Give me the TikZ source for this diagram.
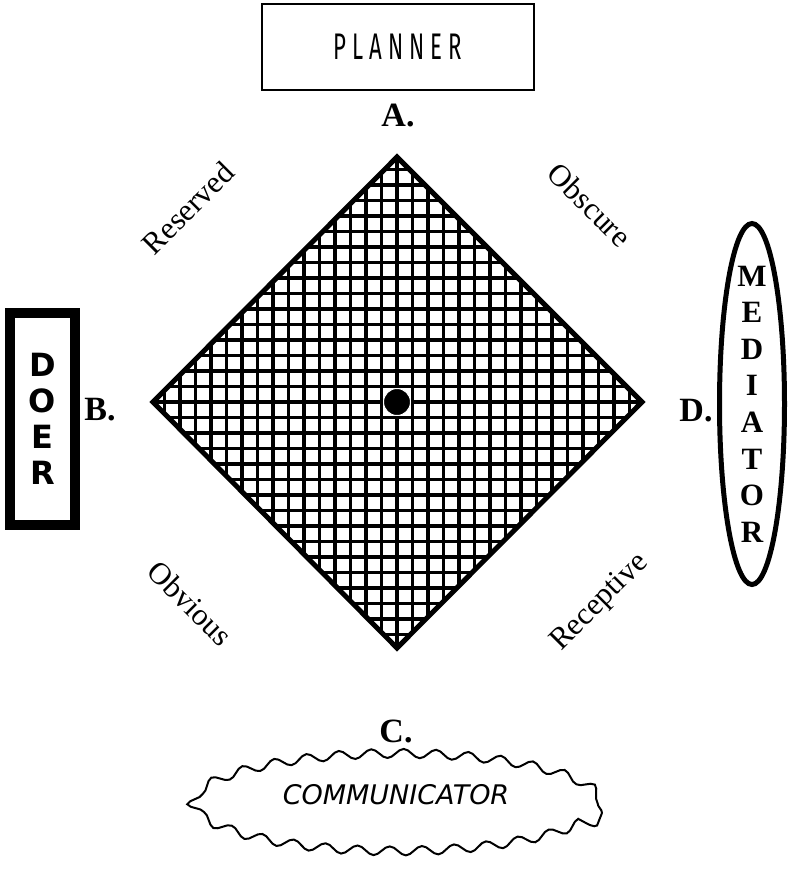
\documentclass[tikz,border=0pt]{standalone}
\usepackage{fontspec}
\setmainfont{Liberation Serif}
\newfontfamily\doerfont{DejaVu Sans}
\newfontfamily\plannerfont{Fira Sans}
\newfontfamily\commfont{DejaVu Sans}
\usetikzlibrary{positioning, calc, shapes.geometric, decorations.pathmorphing}

\begin{document}
\begin{tikzpicture}[
    x=1pt, y=-1pt,
    every node/.style={align=center, inner sep=0pt},
    corner/.style={font=\fontsize{34}{36}\selectfont\bfseries},
    side/.style={font=\fontsize{31}{33}\selectfont},
    gridline/.style={line width=3.6pt}
]
\useasboundingbox (0,0) rectangle (790,871);

% ------------------------
% Diamond with its grid
% ------------------------
\coordinate (top) at (397,157);
\coordinate (left) at (153,402);
\coordinate (bottom) at (397,648);
\coordinate (right) at (642,402);
\coordinate (centre) at (397,402);

\begin{scope}
\clip (top) -- (right) -- (bottom) -- (left) -- cycle;
\foreach \k in {-16,...,16} {
    \draw[gridline] ($(centre)+(\k*15.5,-260)$) -- ($(centre)+(\k*15.5,260)$);
    \draw[gridline] ($(centre)+(-260,\k*15.5)$) -- ($(centre)+(260,\k*15.5)$);
}
\end{scope}
\draw[line width=5pt, line join=miter] (top) -- (right) -- (bottom) -- (left) -- cycle;

\node[circle, fill=black, draw=white, line width=1pt, minimum size=27pt] (dot) at (centre) {};

% ------------------------
% Corner letters
% ------------------------
\node[corner] (labelA) at (398,116) {A.};
\node[corner] (labelB) at (100,410) {B.};
\node[corner] (labelC) at (396,731) {C.};
\node[corner] (labelD) at (696,411) {D.};

% ------------------------
% Side words
% ------------------------
\node[side, rotate=45] (reserved) at (188,208) {Reserved};
\node[side, rotate=-45] (obscure) at (590,205) {Obscure};
\node[side, rotate=-45] (obvious) at (190,603) {Obvious};
\node[side, rotate=45] (receptive) at (600,603) {Receptive};

% ------------------------
% Planner
% ------------------------
\node[draw, line width=2pt, minimum width=272pt, minimum height=86pt,
      font=\plannerfont\fontsize{37}{40}\selectfont] (planner) at (398,47)
    {\scalebox{0.6}[1]{P\hspace{10pt}L\hspace{10pt}A\hspace{10pt}N\hspace{10pt}N\hspace{10pt}E\hspace{10pt}R}};

% ------------------------
% Doer
% ------------------------
\node[draw, line width=10pt, minimum width=65pt, minimum height=212pt,
      font=\doerfont\bfseries\fontsize{32}{36}\selectfont] (doer) at (42.5,419)
    {D\\O\\E\\R};

% ------------------------
% Mediator
% ------------------------
\node[draw, ellipse, line width=5pt, minimum width=65pt, minimum height=361pt] (mediator) at (752,404) {};
\node[font=\bfseries\fontsize{31}{36.6}\selectfont] (mediatortext) at (mediator.center)
    {M\\E\\D\\I\\A\\T\\O\\R};

% ------------------------
% Communicator
% ------------------------
\node[draw, ellipse, line width=2pt, minimum width=408pt, minimum height=100pt,
      decorate, decoration={snake, amplitude=4.5pt, segment length=32.3pt}] (communicator) at (398,813) {};
\node[font=\commfont\itshape\fontsize{27}{30}\selectfont] (commtext) at (396,795) {COMMUNICATOR};

\end{tikzpicture}
\end{document}
